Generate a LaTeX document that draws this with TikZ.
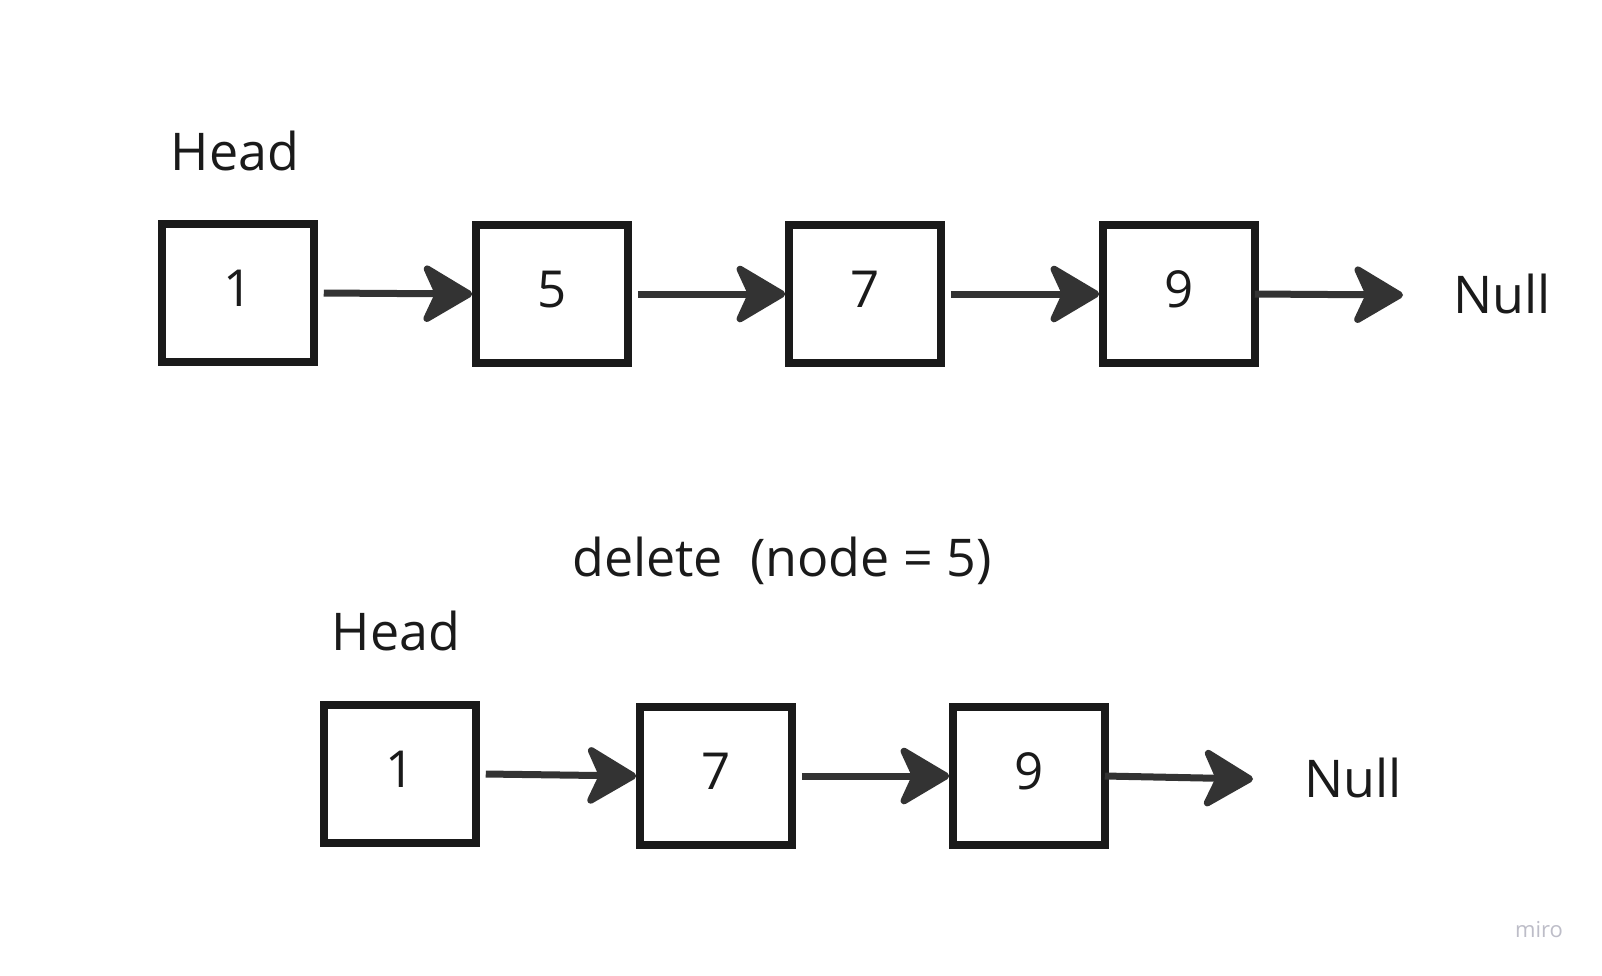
\documentclass[tikz,border=0pt]{standalone}
\usepackage{fontspec}
\setmainfont{Open Sans}
\usetikzlibrary{arrows.meta}
\definecolor{ink}{HTML}{1A1A1A}
\definecolor{arrowgray}{HTML}{333333}
\definecolor{logogray}{HTML}{BDBDC8}
\begin{document}
\begin{tikzpicture}[x=1pt,y=-1pt,
  cell/.style={draw=ink, line width=7.5pt, minimum width=152pt, minimum height=138pt,
    inner sep=0pt, text depth=10pt, font=\fontsize{51}{60}\selectfont, text=ink},
  caption/.style={font=\fontsize{52}{62}\selectfont, text=ink, anchor=base, inner sep=0pt},
  link/.style={draw=arrowgray, line width=7pt,
    -{Stealth[length=56pt, width=66pt, inset=15pt, round, line width=7pt]}},
]
% canvas
\fill[white] (0,0) rectangle (1602,975);
\useasboundingbox (0,0) rectangle (1602,975);

% original list
\node[caption] (head1) at (235,170) {Head};
\node[cell] (a1) at (238,293) {1};
\node[cell] (a5) at (552,294) {5};
\node[cell] (a7) at (865,294) {7};
\node[cell] (a9) at (1179,294) {9};
\coordinate (nullend1) at (1403,295);
\node[caption] (null1) at (1502,313) {Null};

\draw[link] ([xshift=6pt]a1.east) -- (a5.west);
\draw[link] ([xshift=6pt]a5.east) -- (a7.west);
\draw[link] ([xshift=6pt]a7.east) -- (a9.west);
\draw[link] ([xshift=-4pt]a9.east) -- (nullend1);

% operation
\node[caption] (op) at (782,576) {delete\ \ (node = 5)};

% list after deleting 5
\node[caption] (head2) at (396,650) {Head};
\node[cell] (b1) at (400,774) {1};
\node[cell] (b7) at (716,776) {7};
\node[cell] (b9) at (1029,776) {9};
\coordinate (nullend2) at (1253,779);
\node[caption] (null2) at (1353,797) {Null};

\draw[link] ([xshift=6pt]b1.east) -- (b7.west);
\draw[link] ([xshift=6pt]b7.east) -- (b9.west);
\draw[link] ([xshift=-4pt]b9.east) -- (nullend2);

% watermark
\node[font=\fontsize{22}{25}\selectfont, text=logogray] (logo) at (1539,930) {miro};
\end{tikzpicture}
\end{document}
